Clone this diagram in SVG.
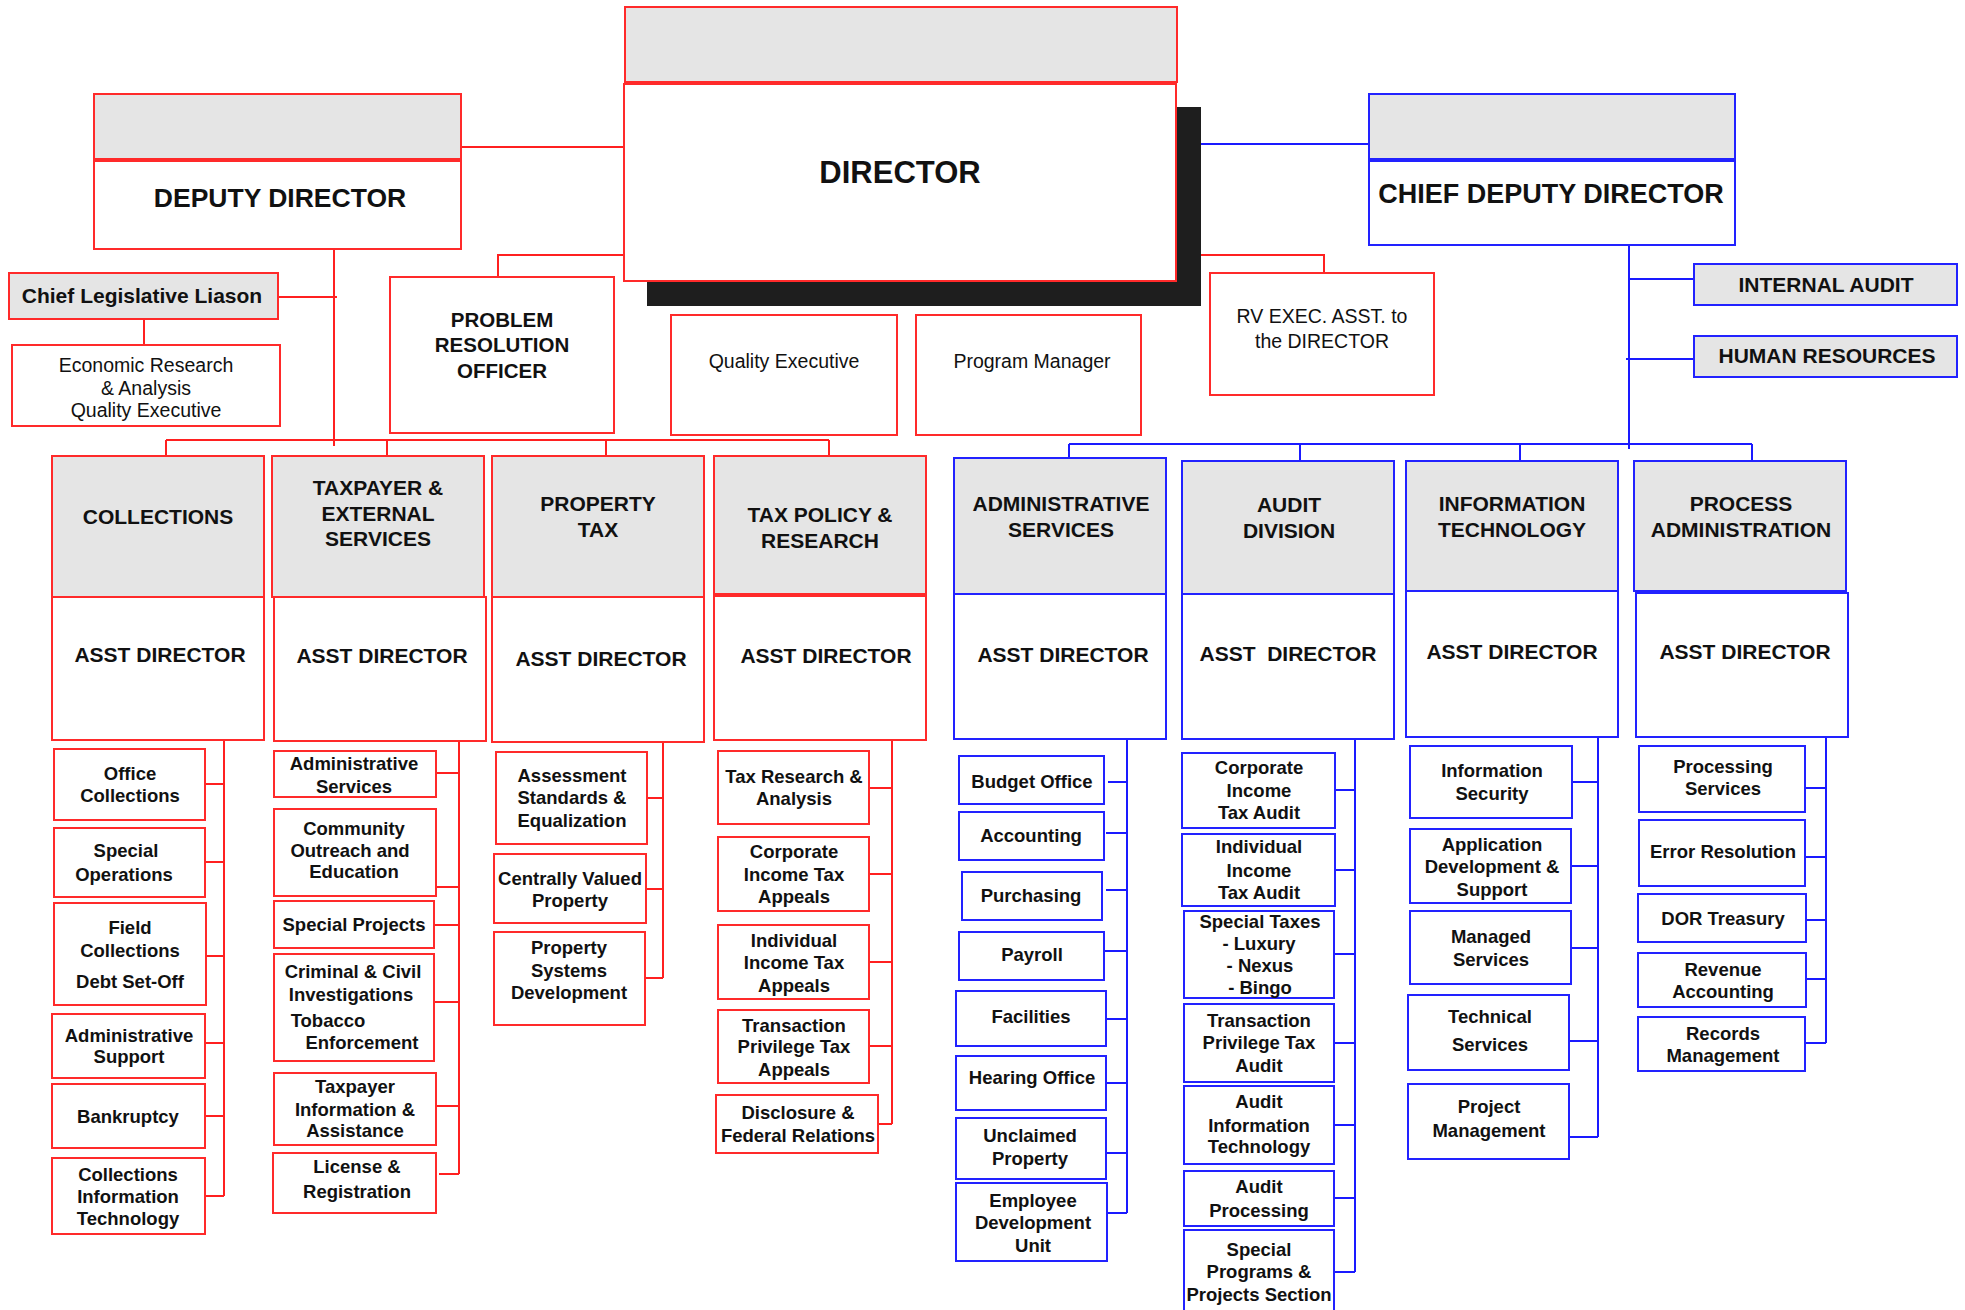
<svg xmlns="http://www.w3.org/2000/svg" width="1965" height="1310" viewBox="0 0 1965 1310">
<style>
.r{fill:#fff;stroke:#ff2a2a;stroke-width:2}
.rg{fill:#e5e5e5;stroke:#ff2a2a;stroke-width:2}
.b{fill:#fff;stroke:#2222ff;stroke-width:2}
.bg{fill:#e5e5e5;stroke:#2222ff;stroke-width:2}
.cr{fill:none;stroke:#ff2020;stroke-width:2}
.cb{fill:none;stroke:#1a1aff;stroke-width:2}
text{font-family:"Liberation Sans",Arial,sans-serif;font-weight:bold;text-anchor:middle;fill:#111}
.h{font-size:21px}
.s{font-size:18.5px}
.n{font-weight:normal;font-size:19.5px}
</style>
<rect width="1965" height="1310" fill="#fff"/>
<g id="connectors">
<path class="cr" d="M461 147H624M498 277V255H624M1176 255H1324V273M334 249V446M278 297H337M144 319V345M166 440H829M166 440V456M387 440V456M606 440V456M829 440V456"/>
<path class="cb" d="M1176 144H1369M1629 245V449M1629 279H1694M1626 359H1694M1069 444H1752M1069 444V458M1300 444V461M1520 444V461M1752 444V461"/>
<path class="cr" d="M224 740V1196M205 784H224M205 862H224M206 956H224M205 1043H224M205 1116H224M205 1196H224"/>
<path class="cr" d="M459 741V1174M436 773H459M436 887H459M434 925H459M434 1002H459M436 1106H459M439 1174H459"/>
<path class="cr" d="M663 742V978M647 798H663M646 889H663M645 978H663"/>
<path class="cr" d="M892 740V1124M869 788H892M869 874H892M869 962H892M869 1046H892M878 1124H892"/>
<path class="cb" d="M1127 739V1213M1108 782H1127M1106 833H1127M1106 890H1127M1104 951H1127M1106 1019H1127M1106 1083H1127M1106 1153H1127M1107 1213H1127"/>
<path class="cb" d="M1355 739V1272M1335 790H1355M1335 870H1355M1334 954H1355M1334 1043H1355M1334 1125H1355M1334 1198H1355M1334 1272H1355"/>
<path class="cb" d="M1598 737V1137M1572 782H1598M1571 866H1598M1571 948H1598M1569 1041H1598M1569 1137H1598"/>
<path class="cb" d="M1826 737V1043M1805 788H1826M1805 857H1826M1806 920H1826M1806 979H1826M1805 1043H1826"/>
</g>

<g id="director">
<rect x="647" y="107" width="554" height="199" fill="#1e1e1e"/>
<rect class="rg" x="625" y="7" width="552" height="75"/>
<rect class="r" x="624" y="84" width="552" height="197"/>
<text x="900" y="183" style="font-size:31px">DIRECTOR</text>
</g>
<g id="deputy-director">
<rect class="rg" x="94" y="94" width="367" height="65"/>
<rect class="r" x="94" y="161" width="367" height="88"/>
<text x="280" y="207" style="font-size:26.5px">DEPUTY DIRECTOR</text>
</g>
<g id="chief-deputy-director">
<rect class="bg" x="1369" y="94" width="366" height="65"/>
<rect class="b" x="1369" y="161" width="366" height="84"/>
<text x="1551" y="203" style="font-size:27px">CHIEF DEPUTY DIRECTOR</text>
</g>
<g id="chief-legislative">
<rect class="rg" x="9" y="273" width="269" height="46"/>
<text class="h" x="142" y="303">Chief Legislative Liason</text>
</g>
<g id="economic-research">
<rect class="r" x="12" y="345" width="268" height="81"/>
<text class="n" x="146" y="372">Economic Research</text>
<text class="n" x="146" y="395">&amp; Analysis</text>
<text class="n" x="146" y="417">Quality Executive</text>
</g>
<g id="problem-resolution">
<rect class="r" x="390" y="277" width="224" height="156"/>
<text x="502" y="327" style="font-size:20.5px">PROBLEM</text>
<text x="502" y="352" style="font-size:20.5px">RESOLUTION</text>
<text x="502" y="378" style="font-size:20.5px">OFFICER</text>
</g>
<g id="quality-executive">
<rect class="r" x="671" y="315" width="226" height="120"/>
<text class="n" x="784" y="368">Quality Executive</text>
</g>
<g id="program-manager">
<rect class="r" x="916" y="315" width="225" height="120"/>
<text class="n" x="1032" y="368">Program Manager</text>
</g>
<g id="rv-exec">
<rect class="r" x="1210" y="273" width="224" height="122"/>
<text class="n" x="1322" y="323">RV EXEC. ASST. to</text>
<text class="n" x="1322" y="348">the DIRECTOR</text>
</g>
<g id="internal-audit">
<rect class="bg" x="1694" y="264" width="263" height="41"/>
<text class="h" x="1826" y="292">INTERNAL AUDIT</text>
</g>
<g id="human-resources">
<rect class="bg" x="1694" y="336" width="263" height="41"/>
<text class="h" x="1827" y="363">HUMAN RESOURCES</text>
</g>

<g id="collections">
<rect class="rg" x="52" y="456" width="212" height="141"/>
<rect class="r" x="52" y="597" width="212" height="143"/>
<text class="h" x="158" y="524">COLLECTIONS</text>
<text class="h" x="160" y="662">ASST DIRECTOR</text>
</g>
<g id="taxpayer">
<rect class="rg" x="272" y="456" width="212" height="141"/>
<rect class="r" x="274" y="597" width="212" height="144"/>
<text class="h" x="378" y="495">TAXPAYER &amp;</text>
<text class="h" x="378" y="521">EXTERNAL</text>
<text class="h" x="378" y="546">SERVICES</text>
<text class="h" x="382" y="663">ASST DIRECTOR</text>
</g>
<g id="property-tax">
<rect class="rg" x="492" y="456" width="212" height="141"/>
<rect class="r" x="492" y="597" width="212" height="145"/>
<text class="h" x="598" y="511">PROPERTY</text>
<text class="h" x="598" y="537">TAX</text>
<text class="h" x="601" y="666">ASST DIRECTOR</text>
</g>
<g id="tax-policy">
<rect class="rg" x="714" y="456" width="212" height="138"/>
<rect class="r" x="714" y="596" width="212" height="144"/>
<text class="h" x="820" y="522">TAX POLICY &amp;</text>
<text class="h" x="820" y="548">RESEARCH</text>
<text class="h" x="826" y="663">ASST DIRECTOR</text>
</g>
<g id="administrative-services">
<rect class="bg" x="954" y="458" width="212" height="136"/>
<rect class="b" x="954" y="594" width="212" height="145"/>
<text class="h" x="1061" y="511">ADMINISTRATIVE</text>
<text class="h" x="1061" y="537">SERVICES</text>
<text class="h" x="1063" y="662">ASST DIRECTOR</text>
</g>
<g id="audit-division">
<rect class="bg" x="1182" y="461" width="212" height="133"/>
<rect class="b" x="1182" y="594" width="212" height="145"/>
<text class="h" x="1289" y="512">AUDIT</text>
<text class="h" x="1289" y="538">DIVISION</text>
<text class="h" x="1288" y="661">ASST&#160; DIRECTOR</text>
</g>
<g id="information-technology">
<rect class="bg" x="1406" y="461" width="212" height="130"/>
<rect class="b" x="1406" y="591" width="212" height="146"/>
<text class="h" x="1512" y="511">INFORMATION</text>
<text class="h" x="1512" y="537">TECHNOLOGY</text>
<text class="h" x="1512" y="659">ASST DIRECTOR</text>
</g>
<g id="process-administration">
<rect class="bg" x="1634" y="461" width="212" height="130"/>
<rect class="b" x="1636" y="593" width="212" height="144"/>
<text class="h" x="1741" y="511">PROCESS</text>
<text class="h" x="1741" y="537">ADMINISTRATION</text>
<text class="h" x="1745" y="659">ASST DIRECTOR</text>
</g>

<g id="office-collections"><rect class="r" x="54" y="749" width="151" height="71"/>
<text class="s" x="130" y="780">Office</text><text class="s" x="130" y="802">Collections</text></g>
<g id="special-operations"><rect class="r" x="54" y="828" width="151" height="69"/>
<text class="s" x="126" y="857">Special</text><text class="s" x="124" y="881">Operations</text></g>
<g id="field-collections"><rect class="r" x="54" y="903" width="152" height="102"/>
<text class="s" x="130" y="934">Field</text><text class="s" x="130" y="957">Collections</text><text class="s" x="130" y="988">Debt Set-Off</text></g>
<g id="administrative-support"><rect class="r" x="52" y="1014" width="153" height="64"/>
<text class="s" x="129" y="1042">Administrative</text><text class="s" x="129" y="1063">Support</text></g>
<g id="bankruptcy"><rect class="r" x="52" y="1084" width="153" height="64"/>
<text class="s" x="128" y="1123">Bankruptcy</text></g>
<g id="collections-it"><rect class="r" x="52" y="1158" width="153" height="76"/>
<text class="s" x="128" y="1181">Collections</text><text class="s" x="128" y="1203">Information</text><text class="s" x="128" y="1225">Technology</text></g>

<g id="tp-admin-services"><rect class="r" x="274" y="751" width="162" height="46"/>
<text class="s" x="354" y="770">Administrative</text><text class="s" x="354" y="793">Services</text></g>
<g id="community-outreach"><rect class="r" x="274" y="809" width="162" height="87"/>
<text class="s" x="354" y="835">Community</text><text class="s" x="350" y="857">Outreach and</text><text class="s" x="354" y="878">Education</text></g>
<g id="special-projects"><rect class="r" x="274" y="901" width="160" height="47"/>
<text class="s" x="354" y="931">Special Projects</text></g>
<g id="criminal-civil"><rect class="r" x="274" y="954" width="160" height="107"/>
<text class="s" x="353" y="978">Criminal &amp; Civil</text><text class="s" x="351" y="1001">Investigations</text><text class="s" x="328" y="1027">Tobacco</text><text class="s" x="362" y="1049">Enforcement</text></g>
<g id="taxpayer-info"><rect class="r" x="274" y="1073" width="162" height="72"/>
<text class="s" x="355" y="1093">Taxpayer</text><text class="s" x="355" y="1116">Information &amp;</text><text class="s" x="355" y="1137">Assistance</text></g>
<g id="license-registration"><rect class="r" x="273" y="1153" width="163" height="60"/>
<text class="s" x="357" y="1173">License &amp;</text><text class="s" x="357" y="1198">Registration</text></g>

<g id="assessment-standards"><rect class="r" x="496" y="752" width="151" height="92"/>
<text class="s" x="572" y="782">Assessment</text><text class="s" x="572" y="804">Standards &amp;</text><text class="s" x="572" y="827">Equalization</text></g>
<g id="centrally-valued"><rect class="r" x="494" y="854" width="152" height="69"/>
<text class="s" x="570" y="885">Centrally Valued</text><text class="s" x="570" y="907">Property</text></g>
<g id="property-systems"><rect class="r" x="494" y="932" width="151" height="93"/>
<text class="s" x="569" y="954">Property</text><text class="s" x="569" y="977">Systems</text><text class="s" x="569" y="999">Development</text></g>

<g id="tax-research"><rect class="r" x="718" y="751" width="151" height="73"/>
<text class="s" x="794" y="783">Tax Research &amp;</text><text class="s" x="794" y="805">Analysis</text></g>
<g id="corporate-appeals"><rect class="r" x="718" y="837" width="151" height="74"/>
<text class="s" x="794" y="858">Corporate</text><text class="s" x="794" y="881">Income Tax</text><text class="s" x="794" y="903">Appeals</text></g>
<g id="individual-appeals"><rect class="r" x="718" y="925" width="151" height="74"/>
<text class="s" x="794" y="947">Individual</text><text class="s" x="794" y="969">Income Tax</text><text class="s" x="794" y="992">Appeals</text></g>
<g id="tpt-appeals"><rect class="r" x="718" y="1010" width="151" height="73"/>
<text class="s" x="794" y="1032">Transaction</text><text class="s" x="794" y="1053">Privilege Tax</text><text class="s" x="794" y="1076">Appeals</text></g>
<g id="disclosure"><rect class="r" x="716" y="1095" width="162" height="58"/>
<text class="s" x="798" y="1119">Disclosure &amp;</text><text class="s" x="798" y="1142">Federal Relations</text></g>

<g id="budget-office"><rect class="b" x="959" y="756" width="145" height="48"/>
<text class="s" x="1032" y="788">Budget Office</text></g>
<g id="accounting"><rect class="b" x="959" y="812" width="145" height="48"/>
<text class="s" x="1031" y="842">Accounting</text></g>
<g id="purchasing"><rect class="b" x="962" y="872" width="140" height="48"/>
<text class="s" x="1031" y="902">Purchasing</text></g>
<g id="payroll"><rect class="b" x="959" y="932" width="145" height="48"/>
<text class="s" x="1032" y="961">Payroll</text></g>
<g id="facilities"><rect class="b" x="956" y="991" width="150" height="55"/>
<text class="s" x="1031" y="1023">Facilities</text></g>
<g id="hearing-office"><rect class="b" x="956" y="1056" width="150" height="54"/>
<text class="s" x="1032" y="1084">Hearing Office</text></g>
<g id="unclaimed-property"><rect class="b" x="956" y="1118" width="150" height="61"/>
<text class="s" x="1030" y="1142">Unclaimed</text><text class="s" x="1030" y="1165">Property</text></g>
<g id="employee-development"><rect class="b" x="956" y="1183" width="151" height="78"/>
<text class="s" x="1033" y="1207">Employee</text><text class="s" x="1033" y="1229">Development</text><text class="s" x="1033" y="1252">Unit</text></g>

<g id="corporate-audit"><rect class="b" x="1182" y="753" width="153" height="75"/>
<text class="s" x="1259" y="774">Corporate</text><text class="s" x="1259" y="797">Income</text><text class="s" x="1259" y="819">Tax Audit</text></g>
<g id="individual-audit"><rect class="b" x="1182" y="834" width="153" height="72"/>
<text class="s" x="1259" y="853">Individual</text><text class="s" x="1259" y="877">Income</text><text class="s" x="1259" y="899">Tax Audit</text></g>
<g id="special-taxes"><rect class="b" x="1184" y="911" width="150" height="87"/>
<text class="s" x="1260" y="928">Special Taxes</text><text class="s" x="1259" y="950">- Luxury</text><text class="s" x="1260" y="972">- Nexus</text><text class="s" x="1260" y="994">- Bingo</text></g>
<g id="tpt-audit"><rect class="b" x="1184" y="1004" width="150" height="78"/>
<text class="s" x="1259" y="1027">Transaction</text><text class="s" x="1259" y="1049">Privilege Tax</text><text class="s" x="1259" y="1072">Audit</text></g>
<g id="audit-it"><rect class="b" x="1184" y="1086" width="150" height="78"/>
<text class="s" x="1259" y="1108">Audit</text><text class="s" x="1259" y="1132">Information</text><text class="s" x="1259" y="1153">Technology</text></g>
<g id="audit-processing"><rect class="b" x="1184" y="1171" width="150" height="55"/>
<text class="s" x="1259" y="1193">Audit</text><text class="s" x="1259" y="1217">Processing</text></g>
<g id="special-programs"><rect class="b" x="1184" y="1230" width="150" height="82"/>
<text class="s" x="1259" y="1256">Special</text><text class="s" x="1259" y="1278">Programs &amp;</text><text class="s" x="1259" y="1301">Projects Section</text></g>

<g id="information-security"><rect class="b" x="1410" y="746" width="162" height="72"/>
<text class="s" x="1492" y="777">Information</text><text class="s" x="1492" y="800">Security</text></g>
<g id="application-development"><rect class="b" x="1410" y="829" width="161" height="74"/>
<text class="s" x="1492" y="851">Application</text><text class="s" x="1492" y="873">Development &amp;</text><text class="s" x="1492" y="896">Support</text></g>
<g id="managed-services"><rect class="b" x="1410" y="911" width="161" height="73"/>
<text class="s" x="1491" y="943">Managed</text><text class="s" x="1491" y="966">Services</text></g>
<g id="technical-services"><rect class="b" x="1408" y="995" width="161" height="75"/>
<text class="s" x="1490" y="1023">Technical</text><text class="s" x="1490" y="1051">Services</text></g>
<g id="project-management"><rect class="b" x="1408" y="1084" width="161" height="75"/>
<text class="s" x="1489" y="1113">Project</text><text class="s" x="1489" y="1137">Management</text></g>

<g id="processing-services"><rect class="b" x="1639" y="746" width="166" height="66"/>
<text class="s" x="1723" y="773">Processing</text><text class="s" x="1723" y="795">Services</text></g>
<g id="error-resolution"><rect class="b" x="1639" y="820" width="166" height="66"/>
<text class="s" x="1723" y="858">Error Resolution</text></g>
<g id="dor-treasury"><rect class="b" x="1638" y="894" width="168" height="48"/>
<text class="s" x="1723" y="925">DOR Treasury</text></g>
<g id="revenue-accounting"><rect class="b" x="1638" y="953" width="168" height="54"/>
<text class="s" x="1723" y="976">Revenue</text><text class="s" x="1723" y="998">Accounting</text></g>
<g id="records-management"><rect class="b" x="1638" y="1017" width="167" height="54"/>
<text class="s" x="1723" y="1040">Records</text><text class="s" x="1723" y="1062">Management</text></g>
</svg>
